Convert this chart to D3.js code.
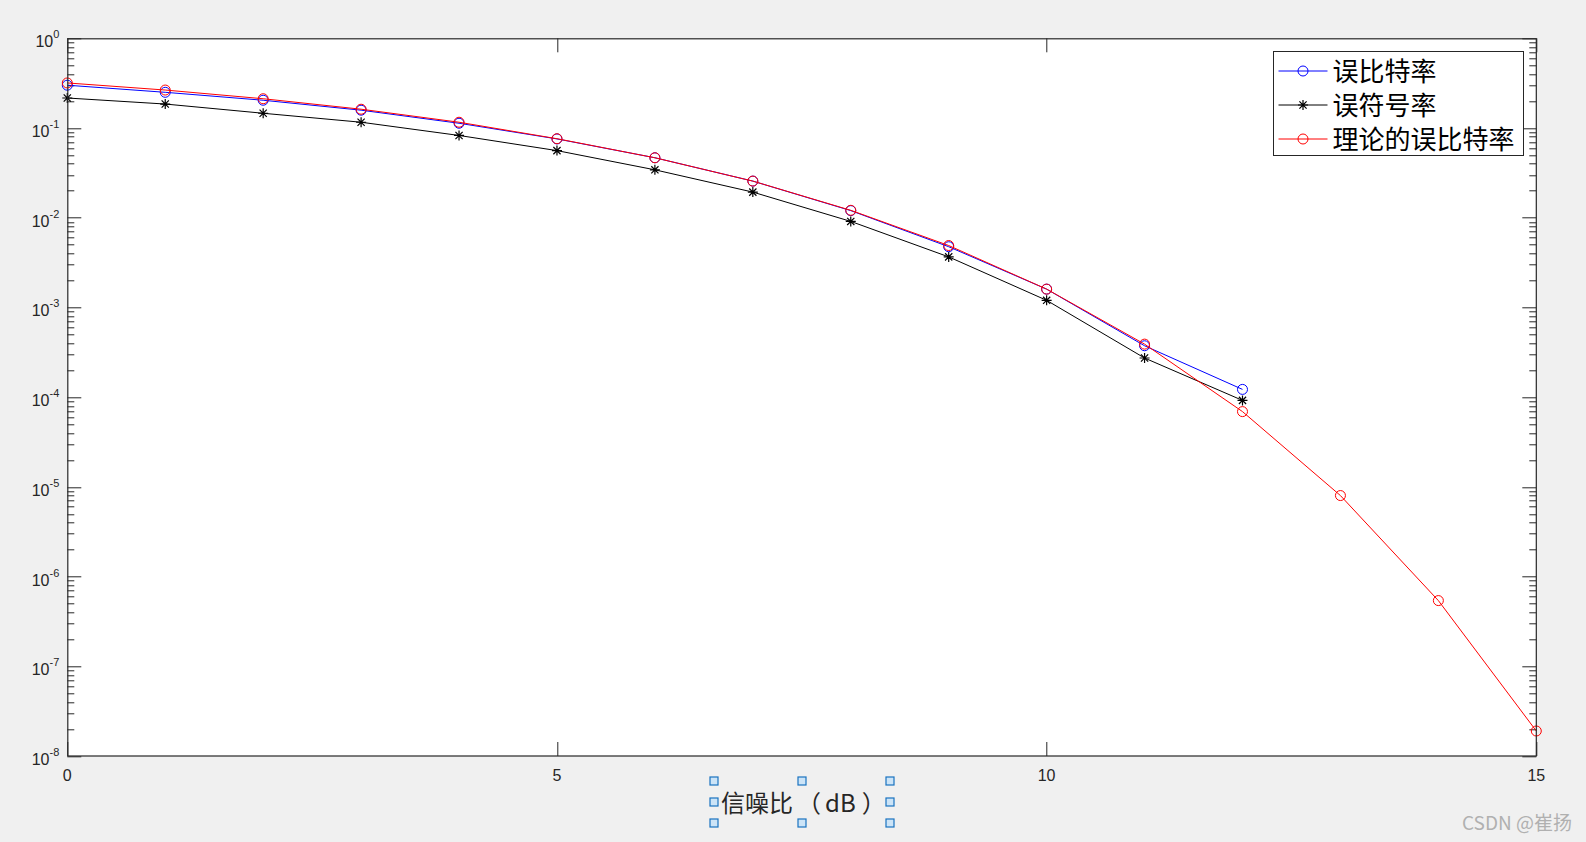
<!DOCTYPE html>
<html>
<head>
<meta charset="utf-8">
<script src="https://cdn.jsdelivr.net/npm/d3@7"></script>
<style>
  html, body { margin: 0; padding: 0; background: #f0f0f0; }
  svg { display: block; }
  text { font-family: "Liberation Sans", Arial, sans-serif; fill: #262626; }
</style>
</head>
<body>
<div id="chart"></div>
<script>
// SNR values (dB)
var snrShort = [0, 1, 2, 3, 4, 5, 6, 7, 8, 9, 10, 11, 12];
var snrTheory = [0, 1, 2, 3, 4, 5, 6, 7, 8, 9, 10, 11, 12, 13, 14, 15];

// 误比特率 (simulated BER)
var berSim = [0.30, 0.25, 0.204, 0.158, 0.113, 0.0756, 0.0466, 0.0256, 0.012, 0.00475, 0.0016, 0.000374, 0.000122];
// 误符号率 (simulated SER)
var serSim = [0.216, 0.185, 0.146, 0.116, 0.0826, 0.056, 0.0342, 0.0193, 0.0091, 0.00366, 0.0012, 0.000273, 0.000092];
// 理论的误比特率
var berTheory = [0.318, 0.265, 0.212, 0.162, 0.116, 0.076, 0.0466, 0.0256, 0.0121, 0.0049, 0.0016, 0.00039, 0.000069, 0.000008, 5.4e-7, 1.9e-8];

var xTicks = [0, 5, 10, 15];
var yTickExps = [0, -1, -2, -3, -4, -5, -6, -7, -8];
var legendLabels = ["误比特率", "误符号率", "理论的误比特率"];
var xLabelParts = ["信噪比", "（", "dB", "）"];

var W = 1586, H = 842;
var margin = {top: 38.3, right: 1586 - 1536.3, bottom: 842 - 756, left: 67.3};
var width = W - margin.left - margin.right,
    height = H - margin.top - margin.bottom;

var svg = d3.select("#chart").append("svg")
  .attr("width", W)
  .attr("height", H);

svg.append("rect").attr("width", W).attr("height", H).attr("fill", "#f0f0f0");

var g = svg.append("g")
  .attr("transform", "translate(" + margin.left + "," + margin.top + ")");

var x = d3.scaleLinear().domain([0, 15]).range([0, width]);
var y = d3.scaleLog().domain([1e-8, 1]).range([height, 0]);

g.append("rect")
  .attr("width", width).attr("height", height)
  .attr("fill", "#ffffff");

var axisColor = "#262626";

// minor ticks for log axis
var minorVals = [];
for (var e = -8; e < 0; e++) {
  for (var m = 2; m <= 9; m++) minorVals.push(m * Math.pow(10, e));
}

var ticks = g.append("g").attr("stroke", axisColor).attr("stroke-width", 1);

minorVals.forEach(function(v) {
  var yy = Math.round(y(v)) + 0.5;
  ticks.append("line").attr("x1", 0).attr("x2", 7).attr("y1", yy).attr("y2", yy);
  ticks.append("line").attr("x1", width).attr("x2", width - 7).attr("y1", yy).attr("y2", yy);
});

yTickExps.forEach(function(ex) {
  var yy = Math.round(y(Math.pow(10, ex))) + 0.5;
  ticks.append("line").attr("x1", 0).attr("x2", 14).attr("y1", yy).attr("y2", yy);
  ticks.append("line").attr("x1", width).attr("x2", width - 14).attr("y1", yy).attr("y2", yy);
});

xTicks.forEach(function(t) {
  var xx = Math.round(x(t)) + 0.5;
  ticks.append("line").attr("x1", xx).attr("x2", xx).attr("y1", height).attr("y2", height - 14);
  ticks.append("line").attr("x1", xx).attr("x2", xx).attr("y1", 0).attr("y2", 14);
});

// y tick labels: 10^n
yTickExps.forEach(function(ex) {
  var yy = y(Math.pow(10, ex));
  var t = g.append("text")
    .attr("x", -8)
    .attr("y", yy + 9)
    .attr("text-anchor", "end")
    .style("font-size", "16px");
  t.append("tspan").text("10");
  t.append("tspan")
    .attr("dy", -9)
    .style("font-size", "11px")
    .text(ex);
});

// x tick labels
xTicks.forEach(function(tv) {
  g.append("text")
    .attr("x", x(tv))
    .attr("y", height + 25)
    .attr("text-anchor", "middle")
    .style("font-size", "16px")
    .text(tv);
});

// series
var series = [
  {xs: snrShort, ys: berSim, color: "#0000ff", marker: "circle"},
  {xs: snrShort, ys: serSim, color: "#000000", marker: "star"},
  {xs: snrTheory, ys: berTheory, color: "#ff0000", marker: "circle"}
];

var line = d3.line()
  .x(function(d) { return x(d[0]); })
  .y(function(d) { return y(d[1]); });

function drawMarker(sel, type, cx, cy, color) {
  if (type === "circle") {
    sel.append("circle")
      .attr("cx", cx).attr("cy", cy).attr("r", 5)
      .attr("fill", "none").attr("stroke", color).attr("stroke-width", 1);
  } else {
    var r = 5, d = 3.6;
    var p = "M" + (cx - r) + "," + cy + "L" + (cx + r) + "," + cy +
            "M" + cx + "," + (cy - r) + "L" + cx + "," + (cy + r) +
            "M" + (cx - d) + "," + (cy - d) + "L" + (cx + d) + "," + (cy + d) +
            "M" + (cx - d) + "," + (cy + d) + "L" + (cx + d) + "," + (cy - d);
    sel.append("path").attr("d", p).attr("stroke", color).attr("stroke-width", 1.2).attr("fill", "none");
  }
}

var plot = g.append("g");
series.forEach(function(s) {
  var pts = s.xs.map(function(v, i) { return [v, s.ys[i]]; });
  plot.append("path")
    .datum(pts)
    .attr("d", line)
    .attr("fill", "none")
    .attr("stroke", s.color)
    .attr("stroke-width", 1);
  var mg = plot.append("g");
  pts.forEach(function(p) {
    drawMarker(mg, s.marker, x(p[0]), y(p[1]), s.color);
  });
});

// axes box
g.append("rect")
  .attr("x", 0.5).attr("y", 0.5)
  .attr("width", width - 0.5).attr("height", height - 0.5)
  .attr("fill", "none").attr("stroke", axisColor).attr("stroke-width", 1.2);

// legend
var lg = svg.append("g").attr("transform", "translate(1273.5,51.5)");
lg.append("rect")
  .attr("width", 250).attr("height", 104)
  .attr("fill", "#ffffff").attr("stroke", axisColor).attr("stroke-width", 1);
legendLabels.forEach(function(lbl, i) {
  var yy = 19.5 + i * 34;
  var s = series[i];
  lg.append("line")
    .attr("x1", 5).attr("x2", 54).attr("y1", yy).attr("y2", yy)
    .attr("stroke", s.color).attr("stroke-width", 1);
  drawMarker(lg, s.marker, 29.5, yy, s.color);
  lg.append("text")
    .attr("x", 59)
    .attr("y", yy + 10)
    .style("font-family", "'Noto Sans CJK SC', sans-serif")
    .style("font-size", "26px")
    .style("fill", "#000")
    .text(lbl);
});

// x label
var xl = svg.append("text")
  .attr("x", 721)
  .attr("y", 812)
  .style("font-family", "'Noto Sans CJK SC', sans-serif")
  .style("font-size", "24px")
  .style("fill", "#262626");
var dxs = [0, 4, 4, 6];
xLabelParts.forEach(function(p, i) {
  xl.append("tspan").attr("dx", dxs[i]).text(p);
});

// selection handles around x label (edit mode)
var hx = [714, 802, 890], hy = [781, 802, 823];
hy.forEach(function(yy, j) {
  hx.forEach(function(xx, i) {
    if (i === 1 && j === 1) return;
    svg.append("rect")
      .attr("x", xx - 4).attr("y", yy - 4)
      .attr("width", 8).attr("height", 8)
      .attr("fill", "#cce4f7").attr("stroke", "#1a73c0").attr("stroke-width", 1.2);
  });
});

// watermark
svg.append("text")
  .attr("x", 1572)
  .attr("y", 830)
  .attr("text-anchor", "end")
  .style("font-family", "'Noto Sans CJK SC', sans-serif")
  .style("font-size", "19px")
  .style("fill", "#b0b0b0")
  .text("CSDN @崔扬");
</script>
</body>
</html>
